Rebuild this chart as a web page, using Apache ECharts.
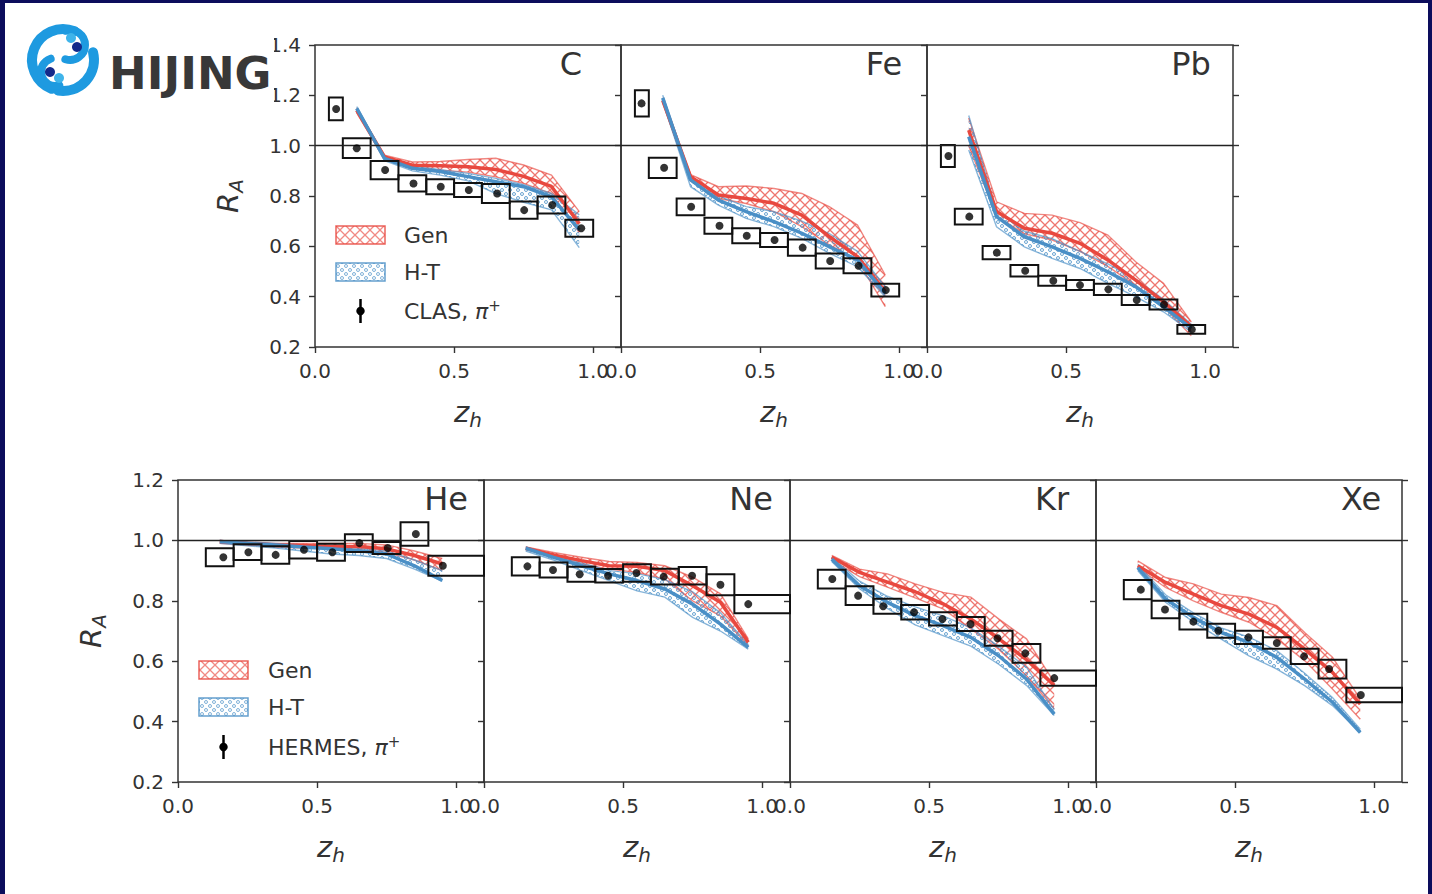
<!DOCTYPE html>
<html><head><meta charset="utf-8">
<script src="https://cdn.jsdelivr.net/npm/echarts@6/dist/echarts.min.js"></script>
<style>
html,body{margin:0;padding:0;background:#fff;}
#chart{position:absolute;left:0;top:0;width:1432px;height:894px;background:#fff;}
#frame{position:absolute;left:0;top:0;width:1432px;height:894px;box-sizing:border-box;border-left:5px solid #0c0d5c;border-top:3px solid #0c0d5c;border-right:4px solid #0c0d5c;pointer-events:none;}
</style></head><body>
<div id="chart"></div><div id="frame"></div>
<script>
// ---------------- data ----------------
const zModel = [0.15,0.25,0.35,0.45,0.55,0.65,0.75,0.85,0.95];
const clasBinEdges = [0.05,0.1,0.2,0.3,0.4,0.5,0.6,0.7,0.8,0.9,1.0];
const hermesBinEdges = [0.1,0.2,0.3,0.4,0.5,0.6,0.7,0.8,0.9,1.2];
const xTickValues = [0, 0.5, 1.0];
const xTickLabels = ['0.0','0.5','1.0'];
const yTickLabelsTop = ['0.2','0.4','0.6','0.8','1.0','1.2','1.4'];
const yTickLabelsBot = ['0.2','0.4','0.6','0.8','1.0','1.2'];
const targetNames = ['C','Fe','Pb','He','Ne','Kr','Xe'];
const modelNames = ['Gen','H-T'];
const expNames = ['CLAS','HERMES'];

// CLAS C
const C_z   = [0.076,0.150,0.252,0.354,0.452,0.553,0.655,0.752,0.853,0.957];
const C_R   = [1.146,0.990,0.903,0.850,0.837,0.824,0.810,0.744,0.764,0.672];
const C_sys = [0.045,0.039,0.036,0.032,0.030,0.028,0.038,0.034,0.034,0.034];
const C_gen   = [1.140,0.955,0.922,0.920,0.916,0.905,0.878,0.838,0.690];
const C_genLo = [1.130,0.945,0.910,0.903,0.895,0.876,0.850,0.810,0.655];
const C_genHi = [1.150,0.962,0.935,0.937,0.945,0.950,0.923,0.883,0.738];
const C_ht    = [1.148,0.949,0.910,0.897,0.877,0.857,0.837,0.797,0.665];
const C_htLo  = [1.140,0.940,0.900,0.883,0.860,0.810,0.775,0.745,0.595];
const C_htHi  = [1.155,0.955,0.920,0.905,0.890,0.870,0.845,0.810,0.725];
// CLAS Fe
const Fe_z   = [0.074,0.155,0.252,0.354,0.452,0.552,0.653,0.752,0.854,0.952];
const Fe_R   = [1.168,0.912,0.757,0.682,0.642,0.625,0.595,0.542,0.523,0.426];
const Fe_sys = [0.052,0.040,0.033,0.032,0.030,0.028,0.032,0.030,0.030,0.025];
const Fe_gen   = [1.180,0.877,0.804,0.790,0.771,0.724,0.638,0.559,0.420];
const Fe_genLo = [1.170,0.860,0.790,0.770,0.738,0.678,0.605,0.545,0.360];
const Fe_genHi = [1.190,0.885,0.837,0.840,0.830,0.810,0.757,0.685,0.486];
const Fe_ht    = [1.190,0.864,0.784,0.738,0.698,0.652,0.598,0.546,0.413];
const Fe_htLo  = [1.175,0.837,0.764,0.711,0.678,0.632,0.572,0.519,0.400];
const Fe_htHi  = [1.200,0.875,0.800,0.758,0.738,0.700,0.650,0.580,0.440];
// CLAS Pb
const Pb_z   = [0.077,0.152,0.251,0.353,0.454,0.550,0.652,0.754,0.852,0.952];
const Pb_R   = [0.959,0.718,0.575,0.503,0.463,0.446,0.429,0.387,0.369,0.270];
const Pb_sys = [0.044,0.031,0.026,0.023,0.020,0.020,0.022,0.020,0.020,0.017];
const Pb_gen   = [1.062,0.738,0.672,0.652,0.612,0.546,0.466,0.380,0.281];
const Pb_genLo = [1.000,0.720,0.650,0.625,0.580,0.520,0.445,0.360,0.245];
const Pb_genHi = [1.110,0.777,0.731,0.724,0.694,0.645,0.539,0.453,0.300];
const Pb_ht    = [1.036,0.718,0.638,0.598,0.552,0.499,0.440,0.360,0.274];
const Pb_htLo  = [0.983,0.678,0.598,0.552,0.512,0.453,0.400,0.340,0.260];
const Pb_htHi  = [1.120,0.740,0.660,0.630,0.580,0.530,0.470,0.390,0.290];
// HERMES He
const He_z   = [0.163,0.253,0.351,0.453,0.555,0.652,0.754,0.855,0.952];
const He_R   = [0.944,0.961,0.952,0.969,0.961,0.991,0.975,1.021,0.916];
const He_sys = [0.030,0.026,0.029,0.029,0.028,0.029,0.020,0.039,0.033];
const He_gen   = [0.996,0.990,0.985,0.983,0.980,0.980,0.972,0.950,0.922];
const He_genLo = [0.990,0.985,0.978,0.975,0.972,0.970,0.960,0.935,0.900];
const He_genHi = [1.000,0.995,0.990,0.990,0.990,0.990,0.985,0.965,0.940];
const He_ht    = [0.996,0.990,0.985,0.978,0.972,0.966,0.955,0.916,0.867];
const He_htLo  = [0.990,0.982,0.975,0.965,0.955,0.950,0.940,0.905,0.865];
const He_htHi  = [1.000,0.995,0.990,0.985,0.980,0.975,0.965,0.935,0.900];
// HERMES Ne
const Ne_z   = [0.156,0.248,0.344,0.446,0.548,0.646,0.748,0.850,0.950];
const Ne_R   = [0.914,0.902,0.888,0.883,0.892,0.880,0.883,0.853,0.789];
const Ne_sys = [0.030,0.025,0.025,0.022,0.029,0.026,0.029,0.035,0.030];
const Ne_gen   = [0.974,0.952,0.933,0.916,0.914,0.900,0.850,0.795,0.663];
const Ne_genLo = [0.970,0.945,0.922,0.905,0.894,0.872,0.800,0.750,0.652];
const Ne_genHi = [0.978,0.960,0.944,0.930,0.927,0.916,0.878,0.823,0.674];
const Ne_ht    = [0.974,0.944,0.916,0.889,0.867,0.839,0.789,0.723,0.646];
const Ne_htLo  = [0.965,0.935,0.900,0.867,0.833,0.812,0.745,0.700,0.640];
const Ne_htHi  = [0.978,0.950,0.925,0.900,0.890,0.870,0.830,0.760,0.655];
// HERMES Kr
const Kr_z   = [0.152,0.245,0.335,0.446,0.548,0.649,0.746,0.846,0.950];
const Kr_R   = [0.872,0.817,0.782,0.762,0.740,0.723,0.676,0.626,0.544];
const Kr_sys = [0.031,0.031,0.025,0.024,0.022,0.023,0.025,0.031,0.025];
const Kr_gen   = [0.944,0.894,0.862,0.830,0.790,0.740,0.675,0.605,0.520];
const Kr_genLo = [0.935,0.880,0.845,0.810,0.773,0.707,0.640,0.552,0.442];
const Kr_genHi = [0.950,0.905,0.889,0.856,0.828,0.812,0.740,0.674,0.530];
const Kr_ht    = [0.938,0.850,0.795,0.751,0.718,0.679,0.618,0.541,0.425];
const Kr_htLo  = [0.930,0.840,0.775,0.720,0.685,0.650,0.590,0.520,0.420];
const Kr_htHi  = [0.945,0.865,0.815,0.780,0.750,0.710,0.650,0.580,0.440];
// HERMES Xe
const Xe_z   = [0.161,0.248,0.350,0.440,0.548,0.650,0.748,0.838,0.952];
const Xe_R   = [0.837,0.771,0.731,0.701,0.679,0.660,0.616,0.574,0.488];
const Xe_sys = [0.032,0.029,0.026,0.023,0.022,0.019,0.025,0.031,0.024];
const Xe_gen   = [0.916,0.861,0.822,0.784,0.756,0.712,0.640,0.563,0.458];
const Xe_genLo = [0.910,0.844,0.800,0.762,0.729,0.674,0.602,0.508,0.408];
const Xe_genHi = [0.932,0.877,0.856,0.822,0.811,0.784,0.695,0.613,0.475];
const Xe_ht    = [0.910,0.806,0.745,0.695,0.662,0.613,0.541,0.464,0.364];
const Xe_htLo  = [0.900,0.795,0.730,0.673,0.618,0.574,0.519,0.453,0.364];
const Xe_htHi  = [0.920,0.820,0.760,0.710,0.680,0.635,0.560,0.480,0.375];

// ---------------- assembly ----------------
const panels = [
  {z:C_z, R:C_R, sys:C_sys, gen:C_gen, genLo:C_genLo, genHi:C_genHi, ht:C_ht, htLo:C_htLo, htHi:C_htHi, edges:clasBinEdges},
  {z:Fe_z, R:Fe_R, sys:Fe_sys, gen:Fe_gen, genLo:Fe_genLo, genHi:Fe_genHi, ht:Fe_ht, htLo:Fe_htLo, htHi:Fe_htHi, edges:clasBinEdges},
  {z:Pb_z, R:Pb_R, sys:Pb_sys, gen:Pb_gen, genLo:Pb_genLo, genHi:Pb_genHi, ht:Pb_ht, htLo:Pb_htLo, htHi:Pb_htHi, edges:clasBinEdges},
  {z:He_z, R:He_R, sys:He_sys, gen:He_gen, genLo:He_genLo, genHi:He_genHi, ht:He_ht, htLo:He_htLo, htHi:He_htHi, edges:hermesBinEdges},
  {z:Ne_z, R:Ne_R, sys:Ne_sys, gen:Ne_gen, genLo:Ne_genLo, genHi:Ne_genHi, ht:Ne_ht, htLo:Ne_htLo, htHi:Ne_htHi, edges:hermesBinEdges},
  {z:Kr_z, R:Kr_R, sys:Kr_sys, gen:Kr_gen, genLo:Kr_genLo, genHi:Kr_genHi, ht:Kr_ht, htLo:Kr_htLo, htHi:Kr_htHi, edges:hermesBinEdges},
  {z:Xe_z, R:Xe_R, sys:Xe_sys, gen:Xe_gen, genLo:Xe_genLo, genHi:Xe_genHi, ht:Xe_ht, htLo:Xe_htLo, htHi:Xe_htHi, edges:hermesBinEdges}
];

// layout (pixels)
const layout = [
  {left:315, top:45, row:0, first:true,  last:false, tx:571,  ty:64},
  {left:621, top:45, row:0, first:false, last:false, tx:884,  ty:64},
  {left:927, top:45, row:0, first:false, last:true,  tx:1191, ty:64},
  {left:178, top:480, row:1, first:true,  last:false, tx:446,  ty:499},
  {left:484, top:480, row:1, first:false, last:false, tx:751,  ty:499},
  {left:790, top:480, row:1, first:false, last:false, tx:1052, ty:499},
  {left:1096,top:480, row:1, first:false, last:true,  tx:1361, ty:499}
];
const PW = 306, PH = 302;
const FF = 'DejaVu Sans';
const RED = '#e8483f', BLUE = '#4a8fc6', INK = '#333333';

function makeHatch(kind) {
  const c = document.createElement('canvas');
  if (kind === 'x') {
    c.width = 10; c.height = 10;
    const g = c.getContext('2d');
    g.strokeStyle = 'rgba(232,72,63,0.75)'; g.lineWidth = 1.3;
    g.beginPath(); g.moveTo(0,0); g.lineTo(10,10); g.moveTo(10,0); g.lineTo(0,10);
    g.moveTo(-1,9); g.lineTo(1,11); g.moveTo(9,-1); g.lineTo(11,1);
    g.stroke();
  } else {
    c.width = 8; c.height = 8;
    const g = c.getContext('2d');
    g.strokeStyle = 'rgba(74,143,198,0.8)'; g.lineWidth = 1;
    g.beginPath(); g.arc(2,2,1.5,0,Math.PI*2); g.stroke();
    g.beginPath(); g.arc(6,6,1.5,0,Math.PI*2); g.stroke();
  }
  return {image: c, repeat: 'repeat'};
}
const patRed = makeHatch('x');
const patBlue = makeHatch('o');

function bandRenderer(zs, lo, hi, pattern, color) {
  return function (params, api) {
    if (params.dataIndex !== 0) return null;
    const up = zs.map((z, i) => api.coord([z, hi[i]]));
    const dn = zs.map((z, i) => api.coord([z, lo[i]]));
    return {type: 'group', children: [
      {type: 'polygon', shape: {points: up.concat(dn.slice().reverse())}, style: {fill: pattern, stroke: null}},
      {type: 'polyline', shape: {points: up}, style: {stroke: color, lineWidth: 1.4, fill: null, opacity: 0.65}},
      {type: 'polyline', shape: {points: dn}, style: {stroke: color, lineWidth: 1.4, fill: null, opacity: 0.65}}
    ]};
  };
}
function boxRenderer(params, api) {
  const p1 = api.coord([api.value(0), api.value(2) + api.value(3)]);
  const p2 = api.coord([api.value(1), api.value(2) - api.value(3)]);
  const cs = params.coordSys;
  const shape = echarts.graphic.clipRectByRect(
    {x: p1[0], y: p1[1], width: p2[0] - p1[0], height: p2[1] - p1[1]},
    {x: cs.x, y: cs.y, width: cs.width, height: cs.height});
  if (!shape) return null;
  return {type: 'rect', shape: shape, style: {fill: null, stroke: '#111', lineWidth: 2}};
}

const richZ = {
  i: {fontFamily: FF, fontStyle: 'italic', fontSize: 29, lineHeight: 30, color: INK},
  s: {fontFamily: FF, fontStyle: 'italic', fontSize: 20, lineHeight: 20, padding: [15, 0, 0, 0], color: INK}
};

const grids = [], xAxes = [], yAxes = [], series = [], graphics = [];
panels.forEach((p, k) => {
  const L = layout[k];
  const ymax = L.row === 0 ? 1.4 : 1.2;
  const ylabels = L.row === 0 ? yTickLabelsTop : yTickLabelsBot;
  grids.push({left: L.left, top: L.top, width: PW, height: PH, show: true,
    borderColor: INK, borderWidth: 1.5, backgroundColor: 'transparent'});
  xAxes.push({gridIndex: k, type: 'value', min: 0, max: 1.1,
    axisLine: {show: false}, splitLine: {show: false},
    axisTick: {show: true, customValues: xTickValues, length: 6, lineStyle: {color: INK, width: 1.4}},
    axisLabel: {show: true, customValues: xTickValues, margin: 14, color: INK, fontSize: 20, fontFamily: FF,
      formatter: v => xTickLabels[xTickValues.findIndex(t => Math.abs(t - v) < 1e-6)]},
    name: '{i|z}{s|h}', nameLocation: 'middle', nameGap: 50, nameTextStyle: {rich: richZ}});
  const yi = yAxes.length;
  yAxes.push({gridIndex: k, type: 'value', min: 0.2, max: ymax, interval: 0.2, position: 'left',
    axisLine: {show: false}, splitLine: {show: false},
    axisTick: {show: true, length: 6, lineStyle: {color: INK, width: 1.4}},
    axisLabel: {show: L.first, margin: 14, color: INK, fontSize: 20, fontFamily: FF,
      formatter: v => ylabels[Math.round((v - 0.2) / 0.2)]},
    name: L.first ? '{i|R}{s|A}' : '', nameLocation: 'middle', nameRotate: 90, nameGap: 72,
    nameTextStyle: {rich: richZ}});
  if (L.last) {
    yAxes.push({gridIndex: k, type: 'value', min: 0.2, max: ymax, interval: 0.2, position: 'right',
      axisLine: {show: false}, splitLine: {show: false}, axisLabel: {show: false},
      axisTick: {show: true, length: 6, lineStyle: {color: INK, width: 1.4}}});
  }
  series.push({type: 'custom', name: modelNames[0], xAxisIndex: k, yAxisIndex: yi, z: 2, silent: true,
    renderItem: bandRenderer(zModel, p.genLo, p.genHi, patRed, RED),
    encode: {x: 0, y: [1, 2]}, data: zModel.map((z, i) => [z, p.genLo[i], p.genHi[i]])});
  series.push({type: 'custom', name: modelNames[1], xAxisIndex: k, yAxisIndex: yi, z: 2, silent: true,
    renderItem: bandRenderer(zModel, p.htLo, p.htHi, patBlue, BLUE),
    encode: {x: 0, y: [1, 2]}, data: zModel.map((z, i) => [z, p.htLo[i], p.htHi[i]])});
  series.push({type: 'line', xAxisIndex: k, yAxisIndex: yi, z: 3, silent: true, showSymbol: false,
    lineStyle: {color: RED, width: 3.5}, data: zModel.map((z, i) => [z, p.gen[i]])});
  series.push({type: 'line', xAxisIndex: k, yAxisIndex: yi, z: 3, silent: true, showSymbol: false,
    lineStyle: {color: BLUE, width: 3.5}, data: zModel.map((z, i) => [z, p.ht[i]])});
  series.push({type: 'custom', xAxisIndex: k, yAxisIndex: yi, z: 4, silent: true,
    renderItem: boxRenderer, encode: {x: [0, 1], y: 2},
    data: p.R.map((r, i) => [p.edges[i], p.edges[i + 1], r, p.sys[i]])});
  series.push({type: 'scatter', name: expNames[L.row], xAxisIndex: k, yAxisIndex: yi, z: 5, silent: true,
    symbolSize: 8, itemStyle: {color: '#000'},
    data: p.z.map((z, i) => [z, p.R[i]]),
    markLine: {silent: true, symbol: 'none', label: {show: false}, animation: false,
      lineStyle: {color: '#222', width: 1.3, type: 'solid'}, data: [{yAxis: 1.0}]}});
  graphics.push({type: 'text', z: 50, style: {text: targetNames[k], x: L.tx, y: L.ty,
    textAlign: 'center', textVerticalAlign: 'middle', fontFamily: FF, fontSize: 32, fill: INK}});
});

function legendGraphics(px, ys, tx, expLabel) {
  const out = [];
  out.push({type: 'rect', z: 50, shape: {x: px, y: ys[0] - 9, width: 49, height: 18},
    style: {fill: patRed, stroke: RED, lineWidth: 1.5, opacity: 0.85}});
  out.push({type: 'rect', z: 50, shape: {x: px, y: ys[1] - 9, width: 49, height: 18},
    style: {fill: patBlue, stroke: BLUE, lineWidth: 1.5, opacity: 0.85}});
  out.push({type: 'line', z: 50, shape: {x1: px + 24.5, y1: ys[2] - 12, x2: px + 24.5, y2: ys[2] + 12},
    style: {stroke: '#000', lineWidth: 2.5}});
  out.push({type: 'circle', z: 50, shape: {cx: px + 24.5, cy: ys[2], r: 4.2}, style: {fill: '#000'}});
  out.push({type: 'text', z: 50, style: {text: modelNames[0], x: tx, y: ys[0], textVerticalAlign: 'middle',
    fontFamily: FF, fontSize: 22, fill: INK}});
  out.push({type: 'text', z: 50, style: {text: modelNames[1], x: tx, y: ys[1], textVerticalAlign: 'middle',
    fontFamily: FF, fontSize: 22, fill: INK}});
  out.push({type: 'text', z: 50, style: {text: expLabel + ', {p|π}{u|+}', x: tx, y: ys[2], textVerticalAlign: 'middle',
    fontFamily: FF, fontSize: 22, fill: INK,
    rich: {p: {fontFamily: FF, fontStyle: 'italic', fontSize: 22, fill: INK, lineHeight: 26},
           u: {fontFamily: FF, fontSize: 15, fill: INK, lineHeight: 15, padding: [0, 0, 11, 0]}}}});
  return out;
}
graphics.push(...legendGraphics(336, [235, 272, 311], 404, expNames[0]));
graphics.push(...legendGraphics(199, [670, 707, 747], 268, expNames[1]));

// HIJING logo
graphics.push({type: 'rect', z: 90, shape: {x: 14, y: 10, width: 260, height: 97}, style: {fill: '#fff'}});
graphics.push({type: 'arc', z: 91, shape: {cx: 63, cy: 60, r: 31, startAngle: Math.PI * 0.62, endAngle: Math.PI * 1.62},
  style: {stroke: '#1e9ae0', lineWidth: 10, fill: null, lineCap: 'round'}});
graphics.push({type: 'arc', z: 91, shape: {cx: 63, cy: 60, r: 31, startAngle: -Math.PI * 0.08, endAngle: Math.PI * 0.55},
  style: {stroke: '#1e9ae0', lineWidth: 10, fill: null, lineCap: 'round'}});
graphics.push({type: 'arc', z: 91, shape: {cx: 70, cy: 45, r: 15, startAngle: -Math.PI * 0.6, endAngle: Math.PI * 0.6},
  style: {stroke: '#1e9ae0', lineWidth: 8, fill: null, lineCap: 'round'}});
graphics.push({type: 'arc', z: 91, shape: {cx: 55, cy: 72, r: 14, startAngle: Math.PI * 0.4, endAngle: Math.PI * 1.4},
  style: {stroke: '#1e9ae0', lineWidth: 8, fill: null, lineCap: 'round'}});
graphics.push({type: 'circle', z: 92, shape: {cx: 71, cy: 38, r: 5}, style: {fill: '#3fb4ea'}});
graphics.push({type: 'circle', z: 92, shape: {cx: 77, cy: 47, r: 5}, style: {fill: '#142a8a'}});
graphics.push({type: 'circle', z: 92, shape: {cx: 50, cy: 72, r: 5}, style: {fill: '#142a8a'}});
graphics.push({type: 'circle', z: 92, shape: {cx: 59, cy: 78, r: 5}, style: {fill: '#3fb4ea'}});
graphics.push({type: 'text', z: 92, style: {text: 'HIJING', x: 109, y: 73, textVerticalAlign: 'middle',
  fontFamily: FF, fontWeight: 'bold', fontSize: 45, fill: '#383838'}});

const chart = echarts.init(document.getElementById('chart'), null, {renderer: 'svg'});
chart.setOption({
  animation: false,
  backgroundColor: '#ffffff',
  grid: grids, xAxis: xAxes, yAxis: yAxes, series: series,
  graphic: {elements: graphics}
});
</script></body></html>
